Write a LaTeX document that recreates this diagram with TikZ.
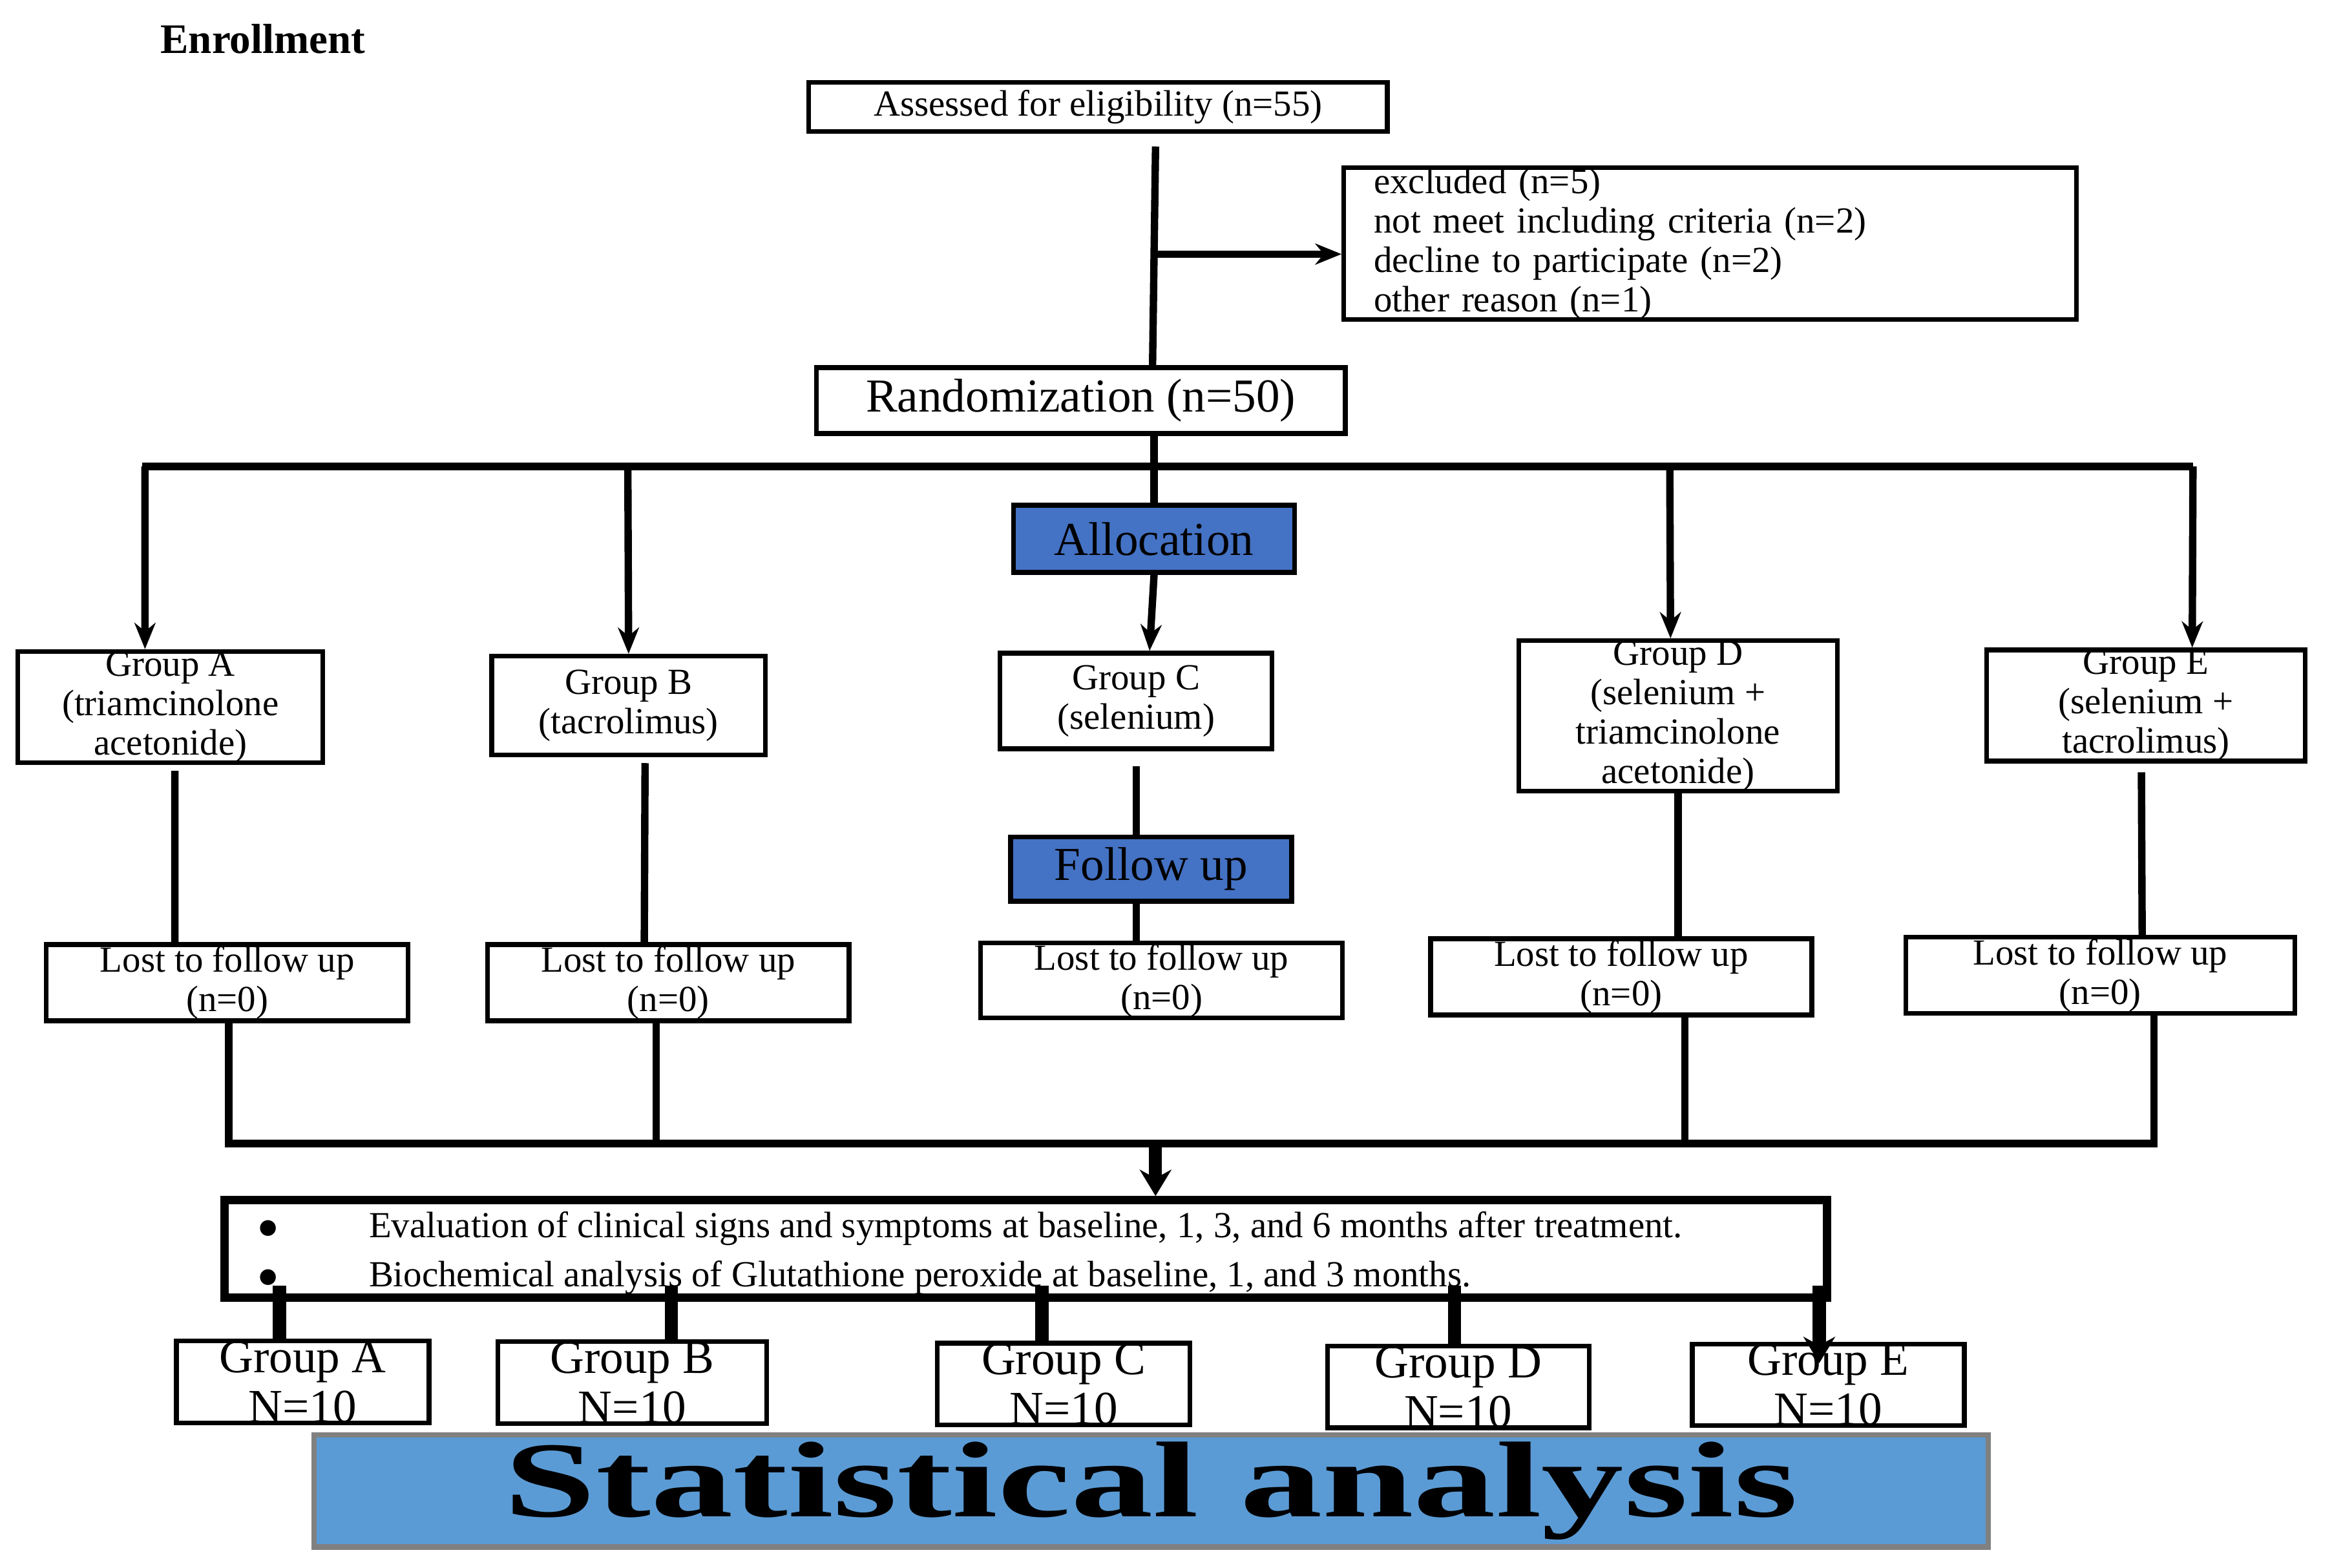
\documentclass[tikz,border=0pt]{standalone}
\usepackage{fontspec}
\setmainfont{Liberation Serif}
\usetikzlibrary{arrows.meta}
\begin{document}
\begin{tikzpicture}[x=0.1mm,y=-0.1mm,
 box/.style={draw,line width=0.9pt,inner sep=0pt,align=center,font=\fontsize{7}{7.5}\selectfont},
 big/.style={font=\fontsize{9}{9.5}\selectfont},
 blue/.style={fill={rgb,255:red,68;green,114;blue,196}},
 ln/.style={line width=1.4pt},
 ar/.style={line width=1.4pt,-{Stealth[length=5pt,width=4pt]}}]
\useasboundingbox (0,0) rectangle (1560,1049);
\node[anchor=west,font=\fontsize{8}{9}\selectfont\bfseries] (enr) at (95,26) {Enrollment};
\node[box,minimum width=38.7mm,minimum height=3.3mm] (b1) at (734.5,71.5) {Assessed for eligibility (n=55)};
\node[box,minimum width=49mm,minimum height=8.6mm,align=left,text width=45mm] (ex) at (1144,163) {excluded (n=5)\\not meet including criteria (n=2)\\decline to participate (n=2)\\other reason (n=1)};
\node[box,big,minimum width=35.4mm,minimum height=4.4mm] (rand) at (723,268) {Randomization (n=50)};
\node[box,big,blue,minimum width=18.8mm,minimum height=4.5mm] (alloc) at (772,360.5) {Allocation};
\node[box,minimum width=20.4mm,minimum height=6.8mm] (ga) at (114,473) {Group A\\(triamcinolone\\acetonide)};
\node[box,minimum width=18.3mm,minimum height=6.6mm] (gb) at (420.5,472) {Group B\\(tacrolimus)};
\node[box,minimum width=18.2mm,minimum height=6.4mm] (gc) at (760,469) {Group C\\(selenium)};
\node[box,minimum width=21.3mm,minimum height=8.6mm] (gd) at (1122.5,479) {Group D\\(selenium +\\triamcinolone\\acetonide)};
\node[box,minimum width=21.3mm,minimum height=7.4mm] (ge) at (1435.5,472) {Group E\\(selenium +\\tacrolimus)};
\node[box,big,blue,minimum width=18.8mm,minimum height=4.3mm] (fu) at (770,581.5) {Follow up};
\node[box,minimum width=24.2mm,minimum height=5.1mm] (la) at (152,657.5) {Lost to follow up\\(n=0)};
\node[box,minimum width=24.2mm,minimum height=5.1mm] (lb) at (447,657.5) {Lost to follow up\\(n=0)};
\node[box,minimum width=24.2mm,minimum height=5mm] (lc) at (777,656) {Lost to follow up\\(n=0)};
\node[box,minimum width=25.5mm,minimum height=5.1mm] (ld) at (1084.5,653.5) {Lost to follow up\\(n=0)};
\node[box,minimum width=26mm,minimum height=5.1mm] (le) at (1405,652.5) {Lost to follow up\\(n=0)};
\node[draw,line width=1.6pt,minimum width=107.2mm,minimum height=6.5mm,inner sep=0pt] (ev) at (686,835.5) {};
\node[anchor=west,font=\fontsize{7}{7.5}\selectfont] (e1) at (160,822) {$\bullet$\hspace{6mm}Evaluation of clinical signs and symptoms at baseline, 1, 3, and 6 months after treatment.};
\node[anchor=west,font=\fontsize{7}{7.5}\selectfont] (e2) at (160,855) {$\bullet$\hspace{6mm}Biochemical analysis of Glutathione peroxide at baseline, 1, and 3 months.};
\node[box,big,minimum width=16.9mm,minimum height=5.5mm] (fa) at (202.5,924.5) {Group A\\N=10};
\node[box,big,minimum width=18mm,minimum height=5.4mm] (fb) at (423,925) {Group B\\N=10};
\node[box,big,minimum width=16.9mm,minimum height=5.2mm] (fc) at (711.5,926) {Group C\\N=10};
\node[box,big,minimum width=17.5mm,minimum height=5.2mm] (fd) at (975.5,928) {Group D\\N=10};
\node[box,big,minimum width=18.2mm,minimum height=5.3mm] (fe) at (1223,926.5) {Group E\\N=10};
\node[draw=gray,line width=1pt,fill={rgb,255:red,91;green,155;blue,213},minimum width=112mm,minimum height=7.5mm,inner sep=0pt] (sa) at (770,997.5) {\resizebox{86.5mm}{5mm}{\bfseries Statistical analysis}};
% connectors
\coordinate (t1) at (773,98);
\coordinate (t2) at (771,170);
\draw[ln] (t1) -- (rand.north -| t2);
\draw[ar] (t2) -- (ex.west |- t2);
\coordinate (hl) at (95,312);
\coordinate (hr) at (1467,312);
\draw[ln] (rand.south -| alloc.north) -- (alloc.north);
\draw[ln] (hl) -- (hr);
\draw[ar] (97,312) -- ([xshift=-1.7mm]ga.north);
\draw[ar] (420,312) -- (gb.north);
\draw[ar] (1117,312) -- ([xshift=-0.5mm]gd.north);
\draw[ar] (hr) -- ([xshift=3.1mm]ge.north);
\draw[ar] (alloc.south) -- ([xshift=0.9mm]gc.north);
\draw[ln] ([xshift=0.3mm,yshift=-0.4mm]ga.south) -- ([xshift=-3.5mm]la.north);
\draw[ln] ([xshift=1.1mm,yshift=-0.4mm]gb.south) -- ([xshift=-1.6mm]lb.north);
\draw[ln] ([yshift=-1mm]gc.south) -- (fu.north -| gc.south);
\draw[ln] (fu.south -| gc.south) -- (lc.north -| gc.south);
\draw[ln] (gd.south) -- (ld.north -| gd.south);
\draw[ln] ([xshift=-0.3mm,yshift=-0.6mm]ge.south) -- ([xshift=2.8mm]le.north);
\coordinate (bl) at (153,765);
\coordinate (br) at (1441,765);
\draw[ln] (la.south -| bl) -- (bl) -- (br) -- (le.south -| br);
\draw[ln] ([xshift=-0.8mm]lb.south) -- ([xshift=-0.8mm]lb.south |- bl);
\draw[ln] ([xshift=4.25mm]ld.south) -- ([xshift=4.25mm]ld.south |- bl);
\draw[line width=2.5pt,-{Stealth[length=5pt,width=6pt]}] (773,765) -- (ev.north -| 773,0);
\foreach \n/\x in {fa/187,fb/449,fc/697,fd/973}
  \draw[line width=2.5pt] (\x,860) -- (\n.north -| \x,0);
\draw[line width=2.5pt,-{Stealth[length=5pt,width=6pt]}] (1217,860) -- (1217,912);
\end{tikzpicture}
\end{document}
